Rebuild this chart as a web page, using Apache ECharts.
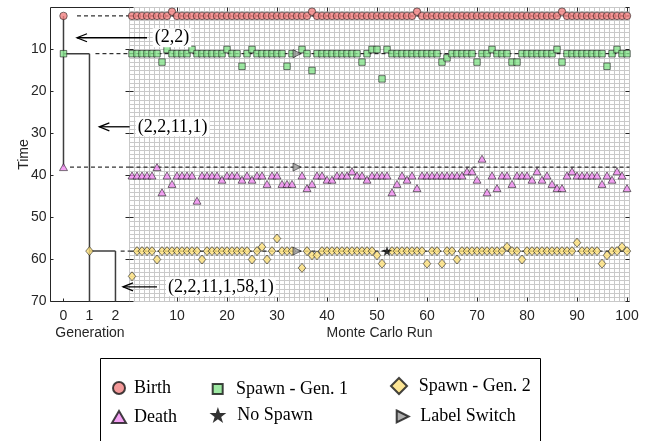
<!DOCTYPE html>
<html>
<head>
<meta charset="utf-8">
<script src="https://cdn.jsdelivr.net/npm/echarts@6/dist/echarts.min.js"></script>
<style>
  html, body { margin: 0; padding: 0; background: #ffffff; }
  #chart { width: 647px; height: 441px; }
</style>
</head>
<body>
<div id="chart"></div>
<script>
// ---- Monte Carlo runs: event time of each target per run (null = drawn by another marker) ----
const birthTimes = [
  2,2,2,2,2,2,2,2,1,2,  2,2,2,2,2,2,2,2,2,2,
  2,2,2,2,2,2,2,2,2,2,  2,2,2,2,2,2,1,2,2,2,
  2,2,2,2,2,2,2,2,2,2,  2,2,2,2,2,2,2,1,2,2,
  2,2,2,2,2,2,2,2,2,2,  2,2,2,2,2,2,2,2,2,2,
  2,2,2,2,2,2,1,2,2,2,  2,2,2,2,2,2,2,2,2,2
];
const spawnGen1Times = [
  11,11,11,11,11,11,13,10,11,11,  11,11,10,11,11,11,11,11,11,10,
  11,11,14,11,10,11,11,11,11,11,  11,14,11,null,10,11,15,11,11,11,
  11,11,11,11,11,11,13,11,10,10,  17,10,11,11,11,11,11,11,11,11,
  11,11,13,12,11,11,11,11,11,13,  11,11,10,11,11,11,13,13,11,11,
  11,11,11,11,11,10,13,11,11,11,  11,11,11,11,11,14,11,10,11,11
];
const deathTimes = [
  40,40,40,40,40,38,44,40,42,40,  40,40,40,46,40,40,40,40,41,40,
  40,40,41,40,41,40,40,42,40,40,  42,42,42,null,40,43,42,40,40,41,
  41,40,40,40,39,40,40,41,40,40,  40,40,44,42,40,41,40,43,40,40,
  40,40,40,40,40,40,40,39,39,41,  36,44,40,43,40,40,42,40,40,40,
  41,39,41,40,42,43,43,40,39,40,  40,40,40,40,42,40,41,39,40,43
];
const spawnGen2Times = [
  64,58,58,58,58,60,58,58,58,58,  58,58,58,58,60,58,58,58,58,58,
  58,58,58,58,60,58,57,60,58,55,  58,58,58,null,62,58,59,59,58,58,
  58,58,58,58,58,58,58,58,58,59,  61,null,58,58,58,58,58,58,58,61,
  58,58,61,58,58,60,58,58,58,58,  58,58,58,58,58,57,58,58,60,58,
  58,58,58,58,58,58,58,58,58,56,  58,58,58,58,61,59,58,58,57,58
];
const labelSwitchRuns  = [34, 34, 34];
const labelSwitchTimes = [11, 38, 58];
const noSpawnRuns  = [52];
const noSpawnTimes = [58];

// ---- Generation tree ----
const generations  = [0, 1, 2];
const genStartTime = [2, 11, 58];   // first appearance of each generation
const genEndTime   = [38, 70, 70];  // death, or end of the window
const treeBirth  = { gen: [0], time: [2] };
const treeSpawn1 = { gen: [0], time: [11] };
const treeDeath  = { gen: [0], time: [38] };
const treeSpawn2 = { gen: [1], time: [58] };

// reference levels carried across to the Monte Carlo panel
const refTimes = [2, 11, 38, 58];

// ---- axes ----
const genTicks = [0, 1, 2];
const runTicks = [10, 20, 30, 40, 50, 60, 70, 80, 90, 100];
const timeMin = 0, timeMax = 70;

// ---- annotations ----
const labels = ['(2,2)', '(2,2,11,1)', '(2,2,11,1,58,1)'];
const labelTimes = [7.2, 28.4, 66.5];

const runNumbers = birthTimes.map((_, i) => i + 1);
function runPairs(vals) {
  const out = [];
  vals.forEach((v, i) => { if (v !== null) out.push([runNumbers[i], v]); });
  return out;
}
function zipPairs(xs, ys) { return xs.map((x, i) => [x, ys[i]]); }

const SANS = "'Liberation Sans', Arial, sans-serif";
const SERIF = "'Liberation Serif', 'Times New Roman', serif";
const AXIS_COLOR = '#262626';
const GRID_COLOR = '#c9c9c9';

const STAR = 'path://M50,0 L61.8,35.1 L98.9,35.5 L69.1,57.6 L80.2,93.1 L50,71.6 L19.8,93.1 L30.9,57.6 L1.1,35.5 L38.2,35.1 Z';
const RIGHT_TRI = 'path://M0,0 L100,50 L0,100 Z';

const edge = { borderColor: '#141414', borderWidth: 0.7 };
const look = {
  birth:  { symbol: 'circle',   symbolSize: 7.5,    itemStyle: Object.assign({ color: '#F07F7F' }, edge) },
  spawn1: { symbol: 'rect',     symbolSize: 6.5,    itemStyle: Object.assign({ color: '#86E38C' }, edge) },
  death:  { symbol: 'triangle', symbolSize: [8, 7], itemStyle: Object.assign({ color: '#F08AF0' }, edge) },
  spawn2: { symbol: 'diamond',  symbolSize: [7.5, 9], itemStyle: Object.assign({ color: '#FCE07A' }, edge) },
  lswitch:{ symbol: RIGHT_TRI,  symbolSize: [8, 8], itemStyle: Object.assign({ color: '#9A9A9A' }, edge) },
  nospawn:{ symbol: STAR,       symbolSize: 10,     itemStyle: { color: '#000000', borderWidth: 0 } }
};

function scatter(name, key, data, grid) {
  return Object.assign({
    type: 'scatter', name: name, data: data,
    xAxisIndex: grid === 0 ? 0 : 1, yAxisIndex: grid === 0 ? 0 : 1,
    z: 5, silent: true
  }, look[key]);
}
function path(data, grid, dashed, name) {
  return {
    type: 'line', name: name, data: data, showSymbol: false, symbol: 'none',
    xAxisIndex: grid === 0 ? 0 : 1, yAxisIndex: grid === 0 ? 0 : 1,
    lineStyle: dashed ? { color: '#000', width: 1, type: [4, 3] } : { color: '#3d3d3d', width: 1.5 },
    z: dashed ? 3 : 4, silent: true, animation: false
  };
}

const series = [];
// tree: life lines and branch connectors
generations.forEach((g, i) => {
  if (i > 0) series.push(path([[generations[i - 1], genStartTime[i]], [g, genStartTime[i]]], 0, false, 'branch' + g));
  series.push(path([[g, genStartTime[i]], [g, genEndTime[i]]], 0, false, 'life' + g));
});
// dashed reference levels (start just right of the event in the tree panel)
const refStartGen = [0.52, 1.23, 0.25, 2.2];
refTimes.forEach((t, i) => {
  series.push(path([[refStartGen[i], t], [2.54, t]], 0, true, 'ref' + t));
  series.push(path([[0.5, t], [100.5, t]], 1, true, 'refRun' + t));
});
// tree markers
series.push(scatter('Birth', 'birth', zipPairs(treeBirth.gen, treeBirth.time), 0));
series.push(scatter('Spawn - Gen. 1', 'spawn1', zipPairs(treeSpawn1.gen, treeSpawn1.time), 0));
series.push(scatter('Death', 'death', zipPairs(treeDeath.gen, treeDeath.time), 0));
series.push(scatter('Spawn - Gen. 2', 'spawn2', zipPairs(treeSpawn2.gen, treeSpawn2.time), 0));
// Monte Carlo runs
series.push(scatter('Birth', 'birth', runPairs(birthTimes), 1));
series.push(scatter('Spawn - Gen. 1', 'spawn1', runPairs(spawnGen1Times), 1));
series.push(scatter('Death', 'death', runPairs(deathTimes), 1));
series.push(scatter('Spawn - Gen. 2', 'spawn2', runPairs(spawnGen2Times), 1));
series.push(scatter('Label Switch', 'lswitch', zipPairs(labelSwitchRuns, labelSwitchTimes), 1));
series.push(scatter('No Spawn', 'nospawn', zipPairs(noSpawnRuns, noSpawnTimes), 1));

const tickLabel = { fontFamily: SANS, fontSize: 14, color: AXIS_COLOR };
const tickLine = { color: AXIS_COLOR, width: 1 };

// one legend block per entry so each icon / text pair sits on its own spot
function legendEntry(name, cx, cy, w, h, textX) {
  const gap = textX - (cx + w / 2) - 5;
  return {
    data: [name], left: cx - w / 2, top: cy - h / 2,
    itemWidth: w, itemHeight: h, padding: 0, selectedMode: false,
    textStyle: { fontFamily: SERIF, fontSize: 18, color: '#000', padding: [0, 0, 0, gap] }
  };
}

const chart = echarts.init(document.getElementById('chart'), null, { renderer: 'canvas', width: 647, height: 441 });

const hidden = { axisLine: { show: false, onZero: false }, axisLabel: { show: false }, splitLine: { show: false } };

chart.setOption({
  animation: false,
  backgroundColor: '#ffffff',
  grid: [
    { left: 50.5, top: 7.5, width: 79, height: 294, show: true, borderColor: AXIS_COLOR, borderWidth: 1, backgroundColor: 'transparent' },
    { left: 129.5, top: 7.5, width: 500, height: 294, show: true, borderColor: AXIS_COLOR, borderWidth: 1, backgroundColor: 'transparent' }
  ],
  xAxis: [
    { gridIndex: 0, type: 'value', min: -0.5, max: 2.54, position: 'bottom',
      axisLine: { show: false, onZero: false },
      axisTick: { inside: true, length: 3, customValues: genTicks, lineStyle: tickLine },
      axisLabel: Object.assign({ customValues: genTicks, margin: 8 }, tickLabel),
      splitLine: { show: false },
      name: 'Generation', nameLocation: 'middle', nameGap: 25, nameMoveOverlap: false,
      nameTextStyle: { fontFamily: SANS, fontSize: 14, color: AXIS_COLOR } },
    { gridIndex: 1, type: 'value', min: 0.5, max: 100.5, position: 'bottom',
      axisLine: { show: false, onZero: false },
      axisTick: { inside: true, length: 4, customValues: runTicks, lineStyle: tickLine },
      axisLabel: Object.assign({ customValues: runTicks, margin: 8 }, tickLabel),
      splitLine: { show: false },
      name: 'Monte Carlo Run', nameLocation: 'middle', nameGap: 25, nameMoveOverlap: false,
      nameTextStyle: { fontFamily: SANS, fontSize: 14, color: AXIS_COLOR } },
    // fine cell grid of the run panel
    { gridIndex: 1, type: 'value', min: 0.5, max: 100.5, interval: 1, position: 'top',
      axisLine: { show: false, onZero: false }, axisTick: { show: false }, axisLabel: { show: false },
      splitLine: { show: true, lineStyle: { color: GRID_COLOR, width: 1 } } },
    // mirrored ticks along the top of the run panel
    Object.assign({ gridIndex: 1, type: 'value', min: 0.5, max: 100.5, position: 'top',
      axisTick: { inside: true, length: 4, customValues: runTicks, lineStyle: tickLine } }, hidden)
  ],
  yAxis: [
    { gridIndex: 0, type: 'value', min: timeMin, max: timeMax, interval: 10, inverse: true, position: 'left',
      axisLine: { show: false, onZero: false },
      axisTick: { inside: true, length: 3, lineStyle: tickLine },
      axisLabel: Object.assign({ showMinLabel: false, margin: 4 }, tickLabel),
      splitLine: { show: false },
      name: 'Time', nameLocation: 'middle', nameGap: 19, nameRotate: 90, nameMoveOverlap: false,
      nameTextStyle: { fontFamily: SANS, fontSize: 14, color: AXIS_COLOR } },
    Object.assign({ gridIndex: 1, type: 'value', min: timeMin, max: timeMax, interval: 10, inverse: true, position: 'left',
      axisTick: { inside: true, length: 4, lineStyle: tickLine } }, hidden),
    { gridIndex: 1, type: 'value', min: timeMin, max: timeMax, interval: 1, inverse: true, position: 'right',
      axisLine: { show: false, onZero: false }, axisTick: { show: false }, axisLabel: { show: false },
      splitLine: { show: true, lineStyle: { color: GRID_COLOR, width: 1 } } },
    // mirrored ticks on the right edge of both panels
    Object.assign({ gridIndex: 0, type: 'value', min: timeMin, max: timeMax, interval: 10, inverse: true, position: 'right',
      axisTick: { inside: true, length: 4, lineStyle: tickLine } }, hidden),
    Object.assign({ gridIndex: 1, type: 'value', min: timeMin, max: timeMax, interval: 10, inverse: true, position: 'right',
      axisTick: { inside: true, length: 4, lineStyle: tickLine } }, hidden)
  ],
  legend: [
    legendEntry('Birth', 118, 385, 12, 12, 133),
    legendEntry('Death', 118, 414, 14, 12, 133),
    legendEntry('Spawn - Gen. 1', 216.7, 385, 10, 10, 235),
    legendEntry('No Spawn', 218, 414, 17, 16, 237.3),
    legendEntry('Spawn - Gen. 2', 398, 385, 16, 16, 417.7),
    legendEntry('Label Switch', 401.7, 415, 12, 15, 419.3)
  ],
  series: series
});

// annotations: sequence labels with arrows pointing at the tree
const arrowTipGen = [0.52, 1.38, 2.29];
const arrowTailRun = [4.0, 0.52, 6.0];
const textRun = [5.15, 1.75, 7.8];
const graphics = [];
labels.forEach((txt, i) => {
  const tip = chart.convertToPixel({ gridIndex: 0 }, [arrowTipGen[i], labelTimes[i]]);
  const tailX = chart.convertToPixel({ xAxisIndex: 1 }, arrowTailRun[i]);
  const tx = chart.convertToPixel({ xAxisIndex: 1 }, textRun[i]);
  graphics.push({ type: 'line', z: 20, silent: true,
    shape: { x1: tip[0], y1: tip[1], x2: tailX, y2: tip[1] },
    style: { stroke: '#000', lineWidth: 1.3 } });
  graphics.push({ type: 'polyline', z: 20, silent: true,
    shape: { points: [[tip[0] + 10, tip[1] - 4], [tip[0], tip[1]], [tip[0] + 10, tip[1] + 4]] },
    style: { stroke: '#000', lineWidth: 1.3, fill: null } });
  graphics.push({ type: 'text', z: 20, silent: true, x: tx, y: tip[1],
    style: { text: txt, font: '18px ' + SERIF, fill: '#000', verticalAlign: 'middle', align: 'left',
             backgroundColor: '#ffffff', padding: [1, 2, 0, 2] } });
});
// legend frame (its lower edge runs past the bottom of the canvas)
graphics.push({ type: 'rect', z: 0, silent: true,
  shape: { x: 100.5, y: 358.5, width: 440, height: 90 },
  style: { stroke: '#000', lineWidth: 1, fill: '#ffffff' } });
chart.setOption({ graphic: graphics });
</script>
</body>
</html>
